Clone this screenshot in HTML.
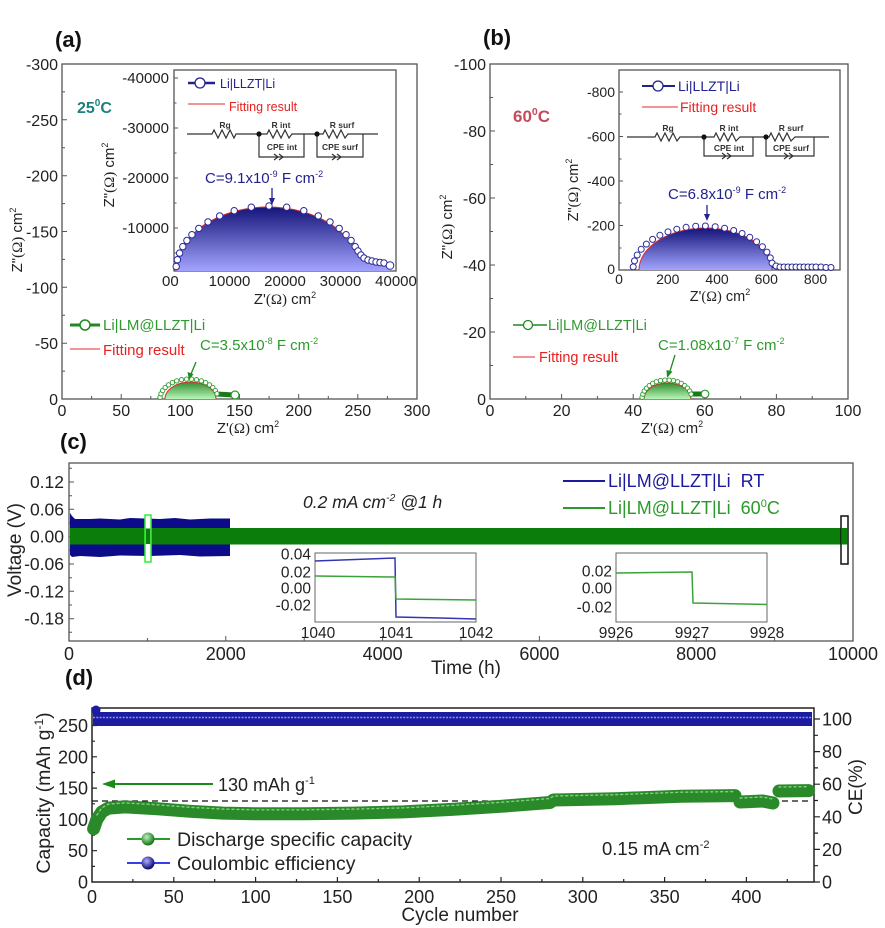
<!DOCTYPE html>
<html><head><meta charset="utf-8"><style>
html,body{margin:0;padding:0;background:#fff;}
svg{display:block;font-family:"Liberation Sans",Arial,sans-serif;}
</style></head><body>
<svg width="885" height="928" viewBox="0 0 885 928" xmlns="http://www.w3.org/2000/svg">
<defs>
<linearGradient id="gb" x1="0" y1="0" x2="0" y2="1"><stop offset="0" stop-color="#14147a"/><stop offset="1" stop-color="#a4a4ff"/></linearGradient>
<linearGradient id="gg" x1="0" y1="0" x2="0" y2="1"><stop offset="0" stop-color="#2f8f2f"/><stop offset="1" stop-color="#b8f5b8"/></linearGradient>
<radialGradient id="rg" cx="0.4" cy="0.35" r="0.6"><stop offset="0" stop-color="#bff0bf"/><stop offset="1" stop-color="#1a7a1a"/></radialGradient>
<radialGradient id="rb" cx="0.4" cy="0.35" r="0.6"><stop offset="0" stop-color="#b0b0ff"/><stop offset="1" stop-color="#10107a"/></radialGradient>
</defs>
<rect width="885" height="928" fill="#fff"/>

<!-- ================= PANEL A ================= -->
<text x="55" y="47" font-size="22" font-weight="bold" fill="#111">(a)</text>
<rect x="62" y="64" width="355" height="335" fill="none" stroke="#555" stroke-width="1.3"/>
<path d="M121.2,399v-5M180.3,399v-5M239.5,399v-5M298.7,399v-5M357.8,399v-5M91.6,399v-3M150.8,399v-3M209.9,399v-3M269.1,399v-3M328.3,399v-3M387.4,399v-3M62,343.2h5M62,287.3h5M62,231.5h5M62,175.7h5M62,119.8h5M62,371.1h3M62,315.3h3M62,259.4h3M62,203.6h3M62,147.8h3M62,91.9h3" stroke="#555" stroke-width="1" fill="none"/>
<g font-size="16" text-anchor="end" fill="#222">
<text x="58" y="70">-300</text><text x="58" y="125.8">-250</text><text x="58" y="181.7">-200</text><text x="58" y="237.5">-150</text><text x="58" y="293.3">-100</text><text x="58" y="349.2">-50</text><text x="58" y="405">0</text>
</g>
<g font-size="16" text-anchor="middle" fill="#222">
<text x="62" y="416">0</text><text x="121.2" y="416">50</text><text x="180.3" y="416">100</text><text x="239.5" y="416">150</text><text x="298.7" y="416">200</text><text x="357.8" y="416">250</text><text x="417" y="416">300</text>
</g>
<text transform="translate(22,240) rotate(-90)" text-anchor="middle" font-size="15" fill="#222">Z"<tspan font-family="Liberation Serif">(Ω)</tspan> cm<tspan dy="-6" font-size="9">2</tspan></text>
<text x="248" y="433" text-anchor="middle" font-size="15" fill="#222">Z'<tspan font-family="Liberation Serif">(Ω)</tspan> cm<tspan dy="-6" font-size="9">2</tspan></text>
<text x="77" y="113" font-size="16" font-weight="bold" fill="#1f7f7f">25<tspan dy="-7" font-size="10">0</tspan><tspan dy="7">C</tspan></text>

<path d="M165,399 A25.5,17 0 0 1 216,399 Z" fill="url(#gg)"/>
<path d="M165,399 A25.5,17 0 0 1 216,399" fill="none" stroke="#e02828" stroke-width="1"/>
<path d="M216,394 L234,395" stroke="#1a7a1a" stroke-width="5" fill="none"/>
<g fill="#fff" stroke="#2a9a2a" stroke-width="0.9">
<circle cx="160.1" cy="397.3" r="2.2"/><circle cx="161" cy="393.8" r="2.2"/><circle cx="162.7" cy="390.5" r="2.2"/><circle cx="165.2" cy="387.5" r="2.2"/><circle cx="168.5" cy="384.9" r="2.2"/><circle cx="172.4" cy="382.6" r="2.2"/><circle cx="176.7" cy="380.9" r="2.2"/><circle cx="181.5" cy="379.7" r="2.2"/><circle cx="186.5" cy="379.1" r="2.2"/><circle cx="191.5" cy="379.1" r="2.2"/><circle cx="196.5" cy="379.7" r="2.2"/><circle cx="201.3" cy="380.9" r="2.2"/><circle cx="205.6" cy="382.6" r="2.2"/><circle cx="209.5" cy="384.9" r="2.2"/><circle cx="212.8" cy="387.5" r="2.2"/><circle cx="215.3" cy="390.5" r="2.2"/><circle cx="217" cy="393.8" r="2.2"/>
<circle cx="235" cy="395" r="4" stroke-width="1.2"/>
</g>
<line x1="70" y1="325" x2="100" y2="325" stroke="#1f8a1f" stroke-width="3"/>
<circle cx="85" cy="325" r="5" fill="#fff" stroke="#1f8a1f" stroke-width="1.5"/>
<text x="103" y="330" font-size="15" fill="#2e9a2e">Li|LM@LLZT|Li</text>
<line x1="70" y1="349" x2="100" y2="349" stroke="#e02828" stroke-width="1"/>
<text x="103" y="355" font-size="15" fill="#e82020">Fitting result</text>
<text x="200" y="350" font-size="15" fill="#2e9a2e">C=3.5x10<tspan dy="-6" font-size="9">-8</tspan><tspan dy="6"> F cm</tspan><tspan dy="-6" font-size="9">-2</tspan></text>
<line x1="196" y1="362" x2="191" y2="374" stroke="#1f8a1f" stroke-width="1.3"/>
<polygon points="189,380 187.5,372 193.5,374" fill="#1f8a1f"/>

<rect x="174" y="70" width="222" height="201" fill="#fff" stroke="#555" stroke-width="1.3"/>
<path d="M229.5,271v-4M285,271v-4M340.5,271v-4M201.75,271v-2.5M257.25,271v-2.5M312.75,271v-2.5M368.25,271v-2.5M174,78h4M174,128h4M174,178h4M174,228h4M174,103h2.5M174,153h2.5M174,203h2.5M174,253h2.5" stroke="#555" stroke-width="1" fill="none"/>
<g font-size="15" text-anchor="end" fill="#222">
<text x="169" y="83">-40000</text><text x="169" y="133">-30000</text><text x="169" y="183">-20000</text><text x="169" y="233">-10000</text>
</g>
<text x="162" y="286" font-size="15" fill="#222">00</text>
<g font-size="15" text-anchor="middle" fill="#222">
<text x="229.5" y="286">10000</text><text x="285" y="286">20000</text><text x="340.5" y="286">30000</text><text x="396" y="286">40000</text>
</g>
<text transform="translate(114,175) rotate(-90)" text-anchor="middle" font-size="15" fill="#222">Z"<tspan font-family="Liberation Serif">(Ω)</tspan> cm<tspan dy="-6" font-size="9">2</tspan></text>
<text x="285" y="304" text-anchor="middle" font-size="15" fill="#222">Z'<tspan font-family="Liberation Serif">(Ω)</tspan> cm<tspan dy="-6" font-size="9">2</tspan></text>
<line x1="188" y1="83" x2="215" y2="83" stroke="#22228f" stroke-width="2.5"/>
<circle cx="200" cy="83" r="5" fill="#fff" stroke="#22228f" stroke-width="1.3"/>
<text x="220" y="88" font-size="12.5" fill="#22228f">Li|LLZT|Li</text>
<line x1="188" y1="104" x2="225" y2="104" stroke="#e02828" stroke-width="1"/>
<text x="229" y="111" font-size="12.5" fill="#e82020">Fitting result</text>
<g stroke="#333" stroke-width="1.2" fill="none">
<path d="M187,134H212L214,130L218,138L222,130L226,138L230,130L234,138L236,134H267L269,130L273,138L277,130L281,138L285,130L289,138L292,134H323L325,130L329,138L333,130L337,138L341,130L345,138L348,134H378"/>
<path d="M259,134V157H304V134M317,134V157H363V134"/>
<path d="M274,154L278,157L274,160M279,154L283,157L279,160M332,154L336,157L332,160M337,154L341,157L337,160"/>
</g>
<circle cx="259" cy="134" r="2.6" fill="#111"/><circle cx="317" cy="134" r="2.6" fill="#111"/>
<g font-size="8.5" font-weight="bold" fill="#333" text-anchor="middle">
<text x="225" y="128">Rg</text><text x="281" y="128">R int</text><text x="342" y="128">R surf</text><text x="282" y="150">CPE int</text><text x="340" y="150">CPE surf</text>
</g>
<text x="205" y="183" font-size="15" fill="#22228f">C=9.1x10<tspan dy="-6" font-size="9">-9</tspan><tspan dy="6"> F cm</tspan><tspan dy="-6" font-size="9">-2</tspan></text>
<line x1="272" y1="188" x2="272" y2="199" stroke="#22228f" stroke-width="1.3"/>
<polygon points="269,198 275,198 272,205" fill="#22228f"/>
<path d="M176,271 A92,64 0 0 1 355,250.2 C359,255 362,259 370,261 L390,264 L390,271 Z" fill="url(#gb)"/>
<path d="M176,271 A92,64 0 0 1 355,250.2 C359,255 362,259 370,261 L390,264" fill="none" stroke="#e02828" stroke-width="1"/>
<g fill="#fff" stroke="#2a2a9a" stroke-width="1">
<circle cx="176.2" cy="266.5" r="3.2"/><circle cx="177.4" cy="259.7" r="3.2"/><circle cx="179.6" cy="253.1" r="3.2"/><circle cx="182.8" cy="246.6" r="3.2"/><circle cx="186.9" cy="240.5" r="3.2"/><circle cx="191.9" cy="234.7" r="3.2"/><circle cx="198.8" cy="228.4" r="3.2"/><circle cx="208" cy="221.9" r="3.2"/><circle cx="219.7" cy="215.9" r="3.2"/><circle cx="234.2" cy="210.7" r="3.2"/><circle cx="251.3" cy="207.2" r="3.2"/><circle cx="269" cy="206" r="3.2"/><circle cx="286.7" cy="207.2" r="3.2"/><circle cx="303.8" cy="210.7" r="3.2"/><circle cx="318.3" cy="215.9" r="3.2"/><circle cx="330" cy="221.9" r="3.2"/><circle cx="339.2" cy="228.4" r="3.2"/><circle cx="346.1" cy="234.7" r="3.2"/><circle cx="351.1" cy="240.5" r="3.2"/><circle cx="355.2" cy="246.6" r="3.2"/>
<circle cx="358" cy="251" r="3.2"/><circle cx="361" cy="255" r="3.2"/><circle cx="364" cy="258" r="3.2"/><circle cx="368" cy="260" r="3.2"/><circle cx="372" cy="261" r="3.2"/><circle cx="376" cy="262" r="3.2"/><circle cx="380" cy="262.5" r="3.2"/><circle cx="384" cy="263" r="3.2"/><circle cx="390" cy="265.5" r="3.8"/>
</g>

<!-- ================= PANEL B ================= -->
<text x="483" y="45" font-size="22" font-weight="bold" fill="#111">(b)</text>
<rect x="490" y="64" width="358" height="335" fill="none" stroke="#555" stroke-width="1.3"/>
<path d="M561.6,399v-5M633.2,399v-5M704.8,399v-5M776.4,399v-5M525.8,399v-3M597.4,399v-3M669,399v-3M740.6,399v-3M812.2,399v-3M490,332h5M490,265h5M490,198h5M490,131h5M490,365.5h3M490,298.5h3M490,231.5h3M490,164.5h3M490,97.5h3" stroke="#555" stroke-width="1" fill="none"/>
<g font-size="16" text-anchor="end" fill="#222">
<text x="486" y="70">-100</text><text x="486" y="137">-80</text><text x="486" y="204">-60</text><text x="486" y="271">-40</text><text x="486" y="338">-20</text><text x="486" y="405">0</text>
</g>
<g font-size="16" text-anchor="middle" fill="#222">
<text x="490" y="416">0</text><text x="561.6" y="416">20</text><text x="633.2" y="416">40</text><text x="704.8" y="416">60</text><text x="776.4" y="416">80</text><text x="848" y="416">100</text>
</g>
<text transform="translate(452,227) rotate(-90)" text-anchor="middle" font-size="15" fill="#222">Z"<tspan font-family="Liberation Serif">(Ω)</tspan> cm<tspan dy="-6" font-size="9">2</tspan></text>
<text x="672" y="433" text-anchor="middle" font-size="15" fill="#222">Z'<tspan font-family="Liberation Serif">(Ω)</tspan> cm<tspan dy="-6" font-size="9">2</tspan></text>
<text x="513" y="122" font-size="17" font-weight="bold" fill="#c44a5c">60<tspan dy="-7" font-size="10.5">0</tspan><tspan dy="7">C</tspan></text>

<path d="M644,399 A23.5,16 0 0 1 691,399 Z" fill="url(#gg)"/>
<path d="M644,399 A23.5,16 0 0 1 691,399" fill="none" stroke="#e02828" stroke-width="1"/>
<path d="M690,394 L704,394" stroke="#1a7a1a" stroke-width="5" fill="none"/>
<g fill="#fff" stroke="#2a9a2a" stroke-width="0.9">
<circle cx="642.1" cy="397.3" r="2.2"/><circle cx="642.9" cy="394.1" r="2.2"/><circle cx="644.3" cy="391" r="2.2"/><circle cx="646.5" cy="388.1" r="2.2"/><circle cx="649.3" cy="385.6" r="2.2"/><circle cx="652.7" cy="383.4" r="2.2"/><circle cx="656.4" cy="381.8" r="2.2"/><circle cx="660.5" cy="380.6" r="2.2"/><circle cx="664.8" cy="380.1" r="2.2"/><circle cx="669.2" cy="380.1" r="2.2"/><circle cx="673.5" cy="380.6" r="2.2"/><circle cx="677.6" cy="381.8" r="2.2"/><circle cx="681.3" cy="383.4" r="2.2"/><circle cx="684.7" cy="385.6" r="2.2"/><circle cx="687.5" cy="388.1" r="2.2"/><circle cx="689.7" cy="391" r="2.2"/><circle cx="691.1" cy="394.1" r="2.2"/>
<circle cx="705" cy="394" r="3.8" stroke-width="1.2"/>
</g>
<line x1="513" y1="325" x2="547" y2="325" stroke="#1f8a1f" stroke-width="1.5"/>
<circle cx="528" cy="325" r="4.5" fill="#fff" stroke="#1f8a1f" stroke-width="1.3"/>
<text x="548" y="330" font-size="14.5" fill="#2e9a2e">Li|LM@LLZT|Li</text>
<line x1="513" y1="357" x2="535" y2="357" stroke="#e02828" stroke-width="1"/>
<text x="539" y="362" font-size="14.5" fill="#e82020">Fitting result</text>
<text x="658" y="350" font-size="15" fill="#2e9a2e">C=1.08x10<tspan dy="-6" font-size="9">-7</tspan><tspan dy="6"> F cm</tspan><tspan dy="-6" font-size="9">-2</tspan></text>
<line x1="675" y1="355" x2="670" y2="371" stroke="#1f8a1f" stroke-width="1.3"/>
<polygon points="667,378 666.5,370 672.5,371.5" fill="#1f8a1f"/>

<rect x="619" y="70" width="221" height="200" fill="#fff" stroke="#555" stroke-width="1.3"/>
<path d="M667.8,270v-4M717,270v-4M766.3,270v-4M815.5,270v-4M643,270v-2.5M692.4,270v-2.5M741.7,270v-2.5M791,270v-2.5M619,92h4M619,136.5h4M619,181h4M619,225.5h4M619,114h2.5M619,159h2.5M619,203h2.5M619,248h2.5" stroke="#555" stroke-width="1" fill="none"/>
<g font-size="14" text-anchor="end" fill="#222">
<text x="615" y="97">-800</text><text x="615" y="141.5">-600</text><text x="615" y="186">-400</text><text x="615" y="230.5">-200</text><text x="615" y="274">0</text>
</g>
<g font-size="14" text-anchor="middle" fill="#222">
<text x="619" y="284">0</text><text x="667.8" y="284">200</text><text x="717" y="284">400</text><text x="766.3" y="284">600</text><text x="815.5" y="284">800</text>
</g>
<text transform="translate(578,190) rotate(-90)" text-anchor="middle" font-size="14.5" fill="#222">Z"<tspan font-family="Liberation Serif">(Ω)</tspan> cm<tspan dy="-6" font-size="9">2</tspan></text>
<text x="720" y="301" text-anchor="middle" font-size="14.5" fill="#222">Z'<tspan font-family="Liberation Serif">(Ω)</tspan> cm<tspan dy="-6" font-size="9">2</tspan></text>
<line x1="642" y1="86" x2="675" y2="86" stroke="#22228f" stroke-width="2"/>
<circle cx="658" cy="86" r="5" fill="#fff" stroke="#22228f" stroke-width="1.3"/>
<text x="678" y="91" font-size="14" fill="#22228f">Li|LLZT|Li</text>
<line x1="642" y1="107" x2="678" y2="107" stroke="#e02828" stroke-width="1"/>
<text x="680" y="112" font-size="14" fill="#e82020">Fitting result</text>
<g stroke="#333" stroke-width="1.2" fill="none">
<path d="M627,137H655L657,133L661,141L665,133L669,141L673,133L677,141L680,137H714L716,133L720,141L724,133L728,141L732,133L736,141L740,137H769L771,133L775,141L779,133L783,141L787,133L791,141L795,137H829"/>
<path d="M704,137V156H753V137M766,137V156H814V137"/>
<path d="M722,153L726,156L722,159M727,153L731,156L727,159M784,153L788,156L784,159M789,153L793,156L789,159"/>
</g>
<circle cx="704" cy="137" r="2.6" fill="#111"/><circle cx="766" cy="137" r="2.6" fill="#111"/>
<g font-size="8.5" font-weight="bold" fill="#333" text-anchor="middle">
<text x="668" y="131">Rg</text><text x="729" y="131">R int</text><text x="791" y="131">R surf</text><text x="729" y="151">CPE int</text><text x="791" y="151">CPE surf</text>
</g>
<text x="668" y="199" font-size="15" fill="#22228f">C=6.8x10<tspan dy="-6" font-size="9">-9</tspan><tspan dy="6"> F cm</tspan><tspan dy="-6" font-size="9">-2</tspan></text>
<line x1="707" y1="205" x2="707" y2="215" stroke="#22228f" stroke-width="1.3"/>
<polygon points="704,214 710,214 707,221" fill="#22228f"/>
<path d="M639,270 A66.5,42 0 0 1 772,270 Z" fill="url(#gb)"/>
<path d="M639,270 A66.5,42 0 0 1 772,270" fill="none" stroke="#e02828" stroke-width="1"/>
<path d="M772,267 L800,267" stroke="#2a2a9a" stroke-width="3" fill="none"/>
<g fill="#fff" stroke="#2a2a9a" stroke-width="1">
<circle cx="633.2" cy="266.9" r="3"/><circle cx="634.5" cy="260.9" r="3"/><circle cx="637.2" cy="255" r="3"/><circle cx="641.2" cy="249.3" r="3"/><circle cx="646.4" cy="244.1" r="3"/><circle cx="652.6" cy="239.4" r="3"/><circle cx="659.9" cy="235.3" r="3"/><circle cx="668" cy="231.9" r="3"/><circle cx="676.8" cy="229.2" r="3"/><circle cx="686.1" cy="227.3" r="3"/><circle cx="695.7" cy="226.2" r="3"/><circle cx="705.4" cy="226" r="3"/><circle cx="715.2" cy="226.7" r="3"/><circle cx="724.6" cy="228.2" r="3"/><circle cx="733.7" cy="230.5" r="3"/><circle cx="742.1" cy="233.5" r="3"/><circle cx="749.8" cy="237.3" r="3"/><circle cx="756.6" cy="241.7" r="3"/><circle cx="762.4" cy="246.7" r="3"/><circle cx="766.9" cy="252.1" r="3"/><circle cx="770.3" cy="257.9" r="3"/><circle cx="772.1" cy="263.1" r="3"/>
<circle cx="776" cy="266" r="3"/><circle cx="780" cy="267" r="3"/><circle cx="784" cy="267" r="3"/><circle cx="788" cy="267" r="3"/><circle cx="792" cy="267" r="3"/><circle cx="796" cy="267" r="3"/><circle cx="800" cy="267" r="3"/><circle cx="804" cy="267" r="3"/><circle cx="808" cy="267" r="3"/><circle cx="812" cy="267" r="3"/><circle cx="816" cy="267" r="3"/><circle cx="821" cy="267" r="3"/><circle cx="826" cy="267.5" r="3"/><circle cx="831" cy="267.5" r="3"/>
</g>

<!-- ================= PANEL C ================= -->
<text x="60" y="449" font-size="22" font-weight="bold" fill="#111">(c)</text>
<rect x="69" y="463" width="784" height="178" fill="none" stroke="#555" stroke-width="1.3"/>
<path d="M225.8,641v-5M382.6,641v-5M539.4,641v-5M696.2,641v-5M147.4,641v-3M304.2,641v-3M461,641v-3M617.8,641v-3M774.6,641v-3M69,482h5M69,509.3h5M69,536.7h5M69,564h5M69,591.3h5M69,618.7h5M69,468.3h3M69,495.7h3M69,523h3M69,550.3h3M69,577.7h3M69,605h3M69,632.3h3" stroke="#555" stroke-width="1" fill="none"/>
<g font-size="17.5" text-anchor="end" fill="#222">
<text x="64" y="488">0.12</text><text x="64" y="515.3">0.06</text><text x="64" y="542.7">0.00</text><text x="64" y="570">-0.06</text><text x="64" y="597.3">-0.12</text><text x="64" y="624.7">-0.18</text>
</g>
<g font-size="18" text-anchor="middle" fill="#222">
<text x="69" y="660">0</text><text x="225.8" y="660">2000</text><text x="382.6" y="660">4000</text><text x="539.4" y="660">6000</text><text x="696.2" y="660">8000</text><text x="853" y="660">10000</text>
</g>
<text transform="translate(21,550) rotate(-90)" text-anchor="middle" font-size="19" fill="#222">Voltage (V)</text>
<text x="466" y="674" text-anchor="middle" font-size="19" fill="#222">Time (h)</text>
<polygon points="70,513 72,516 75,519 90,519 100,518.5 120,519.5 130,518 160,519 175,518 190,519.5 210,518.5 230,518.5 230,556 200,556.5 180,555 150,556 120,555.5 100,557 80,556 72,557 70,555" fill="#0c0c8a"/>
<rect x="70" y="528" width="775" height="16.5" fill="#0a7d0a"/>
<rect x="145" y="515" width="6" height="47" fill="#fff" stroke="#33ee33" stroke-width="1.5"/>
<rect x="145.8" y="528.5" width="4.4" height="15.5" fill="#0a7d0a"/>
<rect x="841" y="516" width="7" height="48" fill="#fff" stroke="#111" stroke-width="1.5"/>
<rect x="841.8" y="528" width="5.4" height="16.5" fill="#0a7d0a"/>
<line x1="563" y1="481" x2="605" y2="481" stroke="#1a1a9a" stroke-width="2"/>
<text x="608" y="487" font-size="18" fill="#1a1a9a">Li|LM@LLZT|Li&#160;&#160;RT</text>
<line x1="563" y1="508" x2="605" y2="508" stroke="#2a9a2a" stroke-width="2"/>
<text x="608" y="514" font-size="18" fill="#2a9a2a">Li|LM@LLZT|Li&#160;&#160;60<tspan dy="-7" font-size="11">0</tspan><tspan dy="7">C</tspan></text>
<text x="303" y="508" font-size="17.5" font-style="italic" fill="#222">0.2 mA cm<tspan dy="-7" font-size="10.5">-2</tspan><tspan dy="7"> @1 h</tspan></text>
<rect x="315" y="553" width="161" height="69" fill="#fff" stroke="#666" stroke-width="1"/>
<g font-size="15.5" text-anchor="end" fill="#222">
<text x="311" y="559.5">0.04</text><text x="311" y="577.5">0.02</text><text x="311" y="593.5">0.00</text><text x="311" y="610.5">-0.02</text>
</g>
<g font-size="15.5" text-anchor="middle" fill="#222">
<text x="318" y="638">1040</text><text x="396" y="638">1041</text><text x="476" y="638">1042</text>
</g>
<polyline points="315,561 395,558 396,617 440,618 476,619" fill="none" stroke="#3535b0" stroke-width="1.5"/>
<polyline points="315,576 395,577 396,599 476,600" fill="none" stroke="#3aa33a" stroke-width="1.5"/>
<rect x="616" y="553" width="151" height="69" fill="#fff" stroke="#666" stroke-width="1"/>
<g font-size="15.5" text-anchor="end" fill="#222">
<text x="612" y="576.5">0.02</text><text x="612" y="593.5">0.00</text><text x="612" y="612.5">-0.02</text>
</g>
<g font-size="15.5" text-anchor="middle" fill="#222">
<text x="616" y="638">9926</text><text x="692" y="638">9927</text><text x="767" y="638">9928</text>
</g>
<polyline points="616,573 692,572 693,603 767,604.5" fill="none" stroke="#3aa33a" stroke-width="1.5"/>

<!-- ================= PANEL D ================= -->
<text x="65" y="685" font-size="22" font-weight="bold" fill="#111">(d)</text>
<rect x="92" y="708" width="722" height="174" fill="none" stroke="#222" stroke-width="1.5"/>
<path d="M173.8,882v-5M255.6,882v-5M337.4,882v-5M419.2,882v-5M501,882v-5M582.8,882v-5M664.6,882v-5M746.4,882v-5M132.9,882v-3M214.7,882v-3M296.5,882v-3M378.3,882v-3M460.1,882v-3M541.9,882v-3M623.7,882v-3M705.5,882v-3M787.3,882v-3M92,850.7h5M92,819.4h5M92,788.1h5M92,756.8h5M92,725.5h5M92,866.4h3M92,835.1h3M92,803.8h3M92,772.5h3M92,741.2h3M92,709.9h3M814,882h6M814,849.4h6M814,816.8h6M814,784.2h6M814,751.6h6M814,719h6M814,865.7h4M814,833.1h4M814,800.5h4M814,767.9h4M814,735.3h4" stroke="#222" stroke-width="1.2" fill="none"/>
<g font-size="18" text-anchor="end" fill="#222">
<text x="88" y="888.5">0</text><text x="88" y="857.2">50</text><text x="88" y="825.9">100</text><text x="88" y="794.6">150</text><text x="88" y="763.3">200</text><text x="88" y="732">250</text>
</g>
<g font-size="18" fill="#222">
<text x="822" y="888.5">0</text><text x="822" y="855.9">20</text><text x="822" y="823.3">40</text><text x="822" y="790.7">60</text><text x="822" y="758.1">80</text><text x="822" y="725.5">100</text>
</g>
<g font-size="18" text-anchor="middle" fill="#222">
<text x="92" y="903">0</text><text x="173.8" y="903">50</text><text x="255.6" y="903">100</text><text x="337.4" y="903">150</text><text x="419.2" y="903">200</text><text x="501" y="903">250</text><text x="582.8" y="903">300</text><text x="664.6" y="903">350</text><text x="746.4" y="903">400</text>
</g>
<text x="460" y="921" text-anchor="middle" font-size="19" fill="#222">Cycle number</text>
<text transform="translate(50,793) rotate(-90)" text-anchor="middle" font-size="19.5" fill="#222">Capacity (mAh g<tspan dy="-7" font-size="12">-1</tspan><tspan dy="7">)</tspan></text>
<text transform="translate(862,787) rotate(-90)" text-anchor="middle" font-size="19" fill="#222">CE(%)</text>
<rect x="93" y="712" width="719" height="14" fill="#1c1ca0"/>
<line x1="93" y1="717.5" x2="812" y2="717.5" stroke="#9090f0" stroke-width="1.6" stroke-dasharray="2 1.3"/>
<circle cx="96" cy="710" r="4.5" fill="#1c1ca0"/>
<line x1="92" y1="801" x2="812" y2="801" stroke="#111" stroke-width="1.2" stroke-dasharray="6 4"/>
<g fill="none" stroke-linecap="round" stroke-linejoin="round">
<polyline points="93.6,828.8 96.9,819.4 101.8,811.9 108.4,808.1 124.7,806.9 157.4,808.8 190.2,811.3 222.9,813.1 255.6,813.8 304.7,813.8 353.8,813.1 402.8,811.9 451.9,809.4 501,806.3 550,802.5 553.4,800 615.5,798.7 681,796.2 735,795.6" stroke="#2a8a2a" stroke-width="13"/>
<polyline points="740,802 762.8,801 773,803" stroke="#2a8a2a" stroke-width="13"/>
<polyline points="779,791 808.6,790.6" stroke="#2a8a2a" stroke-width="13"/>
<polyline points="96.9,815 101.8,807.9 108.4,804.1 124.7,802.9 157.4,804.8 190.2,807.3 222.9,809.1 255.6,809.8 304.7,809.8 353.8,809.1 402.8,807.9 451.9,805.4 501,802.3 550,798.5 553.4,796 615.5,794.7 681,792.2 735,791.6" stroke="#7fcf7f" stroke-width="1.4" stroke-dasharray="2 3"/>
<polyline points="740,798 762.8,797 773,799" stroke="#7fcf7f" stroke-width="1.4" stroke-dasharray="2 3"/>
<polyline points="779,787 808.6,786.6" stroke="#7fcf7f" stroke-width="1.4" stroke-dasharray="2 3"/>
</g>
<line x1="213" y1="784" x2="112" y2="784" stroke="#1a8a1a" stroke-width="2"/>
<polygon points="102,784 115,779.5 115,788.5" fill="#1a8a1a"/>
<text x="218" y="791" font-size="18" fill="#222">130 mAh g<tspan dy="-7" font-size="11">-1</tspan></text>
<line x1="127" y1="839" x2="170" y2="839" stroke="#2a9a2a" stroke-width="2"/>
<circle cx="148" cy="839" r="6.5" fill="url(#rg)"/>
<text x="177" y="846" font-size="19.5" fill="#222">Discharge specific capacity</text>
<line x1="127" y1="863" x2="170" y2="863" stroke="#3a3aee" stroke-width="2"/>
<circle cx="148" cy="863" r="6.5" fill="url(#rb)"/>
<text x="177" y="870" font-size="19.5" fill="#222">Coulombic efficiency</text>
<text x="602" y="855" font-size="18.5" fill="#222">0.15 mA cm<tspan dy="-7" font-size="11">-2</tspan></text>
</svg>
</body></html>
